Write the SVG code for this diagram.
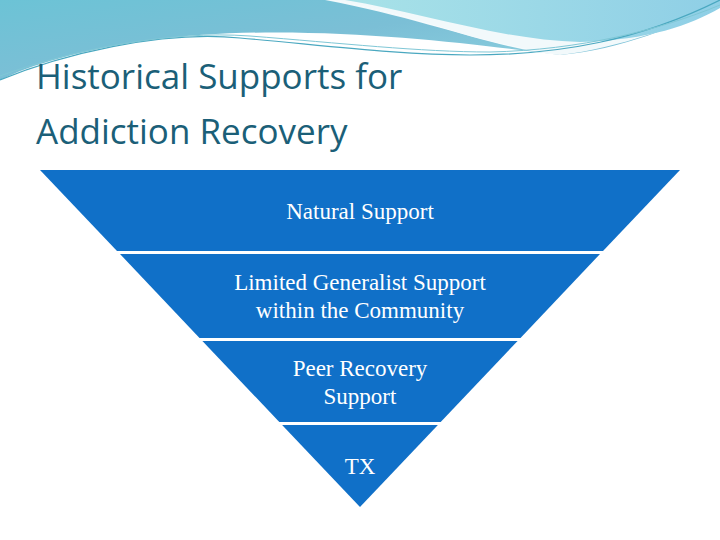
<svg xmlns="http://www.w3.org/2000/svg" width="720" height="540" viewBox="0 0 720 540">
<defs>
<linearGradient id="g1" x1="0" y1="0" x2="1" y2="1"><stop offset="0" stop-color="#6cc3d6"/><stop offset="0.5" stop-color="#7bbfd6"/><stop offset="1" stop-color="#8fd2e0"/></linearGradient>
<linearGradient id="g2" x1="0" y1="0" x2="1" y2="0"><stop offset="0" stop-color="#a8e2e8"/><stop offset="1" stop-color="#8fcfe6"/></linearGradient>
<style>
.band{fill:#1070c8}
.lbl{font-family:"Liberation Serif",serif;font-size:23px;fill:#fff;text-anchor:middle}
.ttl{font-family:"Open Sans","Liberation Sans",sans-serif;font-size:35px;fill:#1b5f78}
</style>
</defs>
<rect width="720" height="540" fill="#fff"/>
<g id="background">
<path d="M0 0 H330 C420 15 460 40 560 55 C480 45 300 20 150 40 C80 50 30 65 0 80 Z" fill="url(#g1)"/>
<path d="M330 0 C420 15 460 40 560 55 C620 50 680 25 720 5 V0 Z" fill="#7fc3d8"/>
<path d="M325 0 H720 V5 C680 25 620 48 560 55 C500 50 430 20 325 0 Z" fill="#fff" opacity="0.9"/>
<path d="M345 0 H720 V8 C690 25 650 40 580 42 C500 40 420 12 345 0 Z" fill="url(#g2)"/>
<path d="M0 80 C60 55 160 30 240 38 C330 46 400 55 470 55 C560 55 640 40 720 0" fill="none" stroke="#4aa8c0" stroke-width="1.2"/>
<path d="M0 76 C70 50 170 30 250 36 C340 43 420 52 490 52 C580 50 660 30 720 5" fill="none" stroke="#7fc7d6" stroke-width="1"/>
</g>
<g id="title">
<text class="ttl" x="36" y="89">Historical Supports for</text>
<text class="ttl" x="36" y="144">Addiction Recovery</text>
</g>
<g id="node-natural">
<polygon class="band" points="40,170 680,170 603,251 117,251"/>
<text class="lbl" x="360" y="219">Natural Support</text>
</g>
<g id="node-limited">
<polygon class="band" points="120,254 600,254 520.5,338 199.5,338"/>
<text class="lbl" x="360" y="290">Limited Generalist Support</text>
<text class="lbl" x="360" y="318">within the Community</text>
</g>
<g id="node-peer">
<polygon class="band" points="202.4,341 517.6,341 440.7,422 279.3,422"/>
<text class="lbl" x="360" y="376">Peer Recovery</text>
<text class="lbl" x="360" y="404">Support</text>
</g>
<g id="node-tx">
<polygon class="band" points="282.1,425 437.9,425 360,507"/>
<text class="lbl" x="360" y="474">TX</text>
</g>
<g id="connectors"/>
</svg>
